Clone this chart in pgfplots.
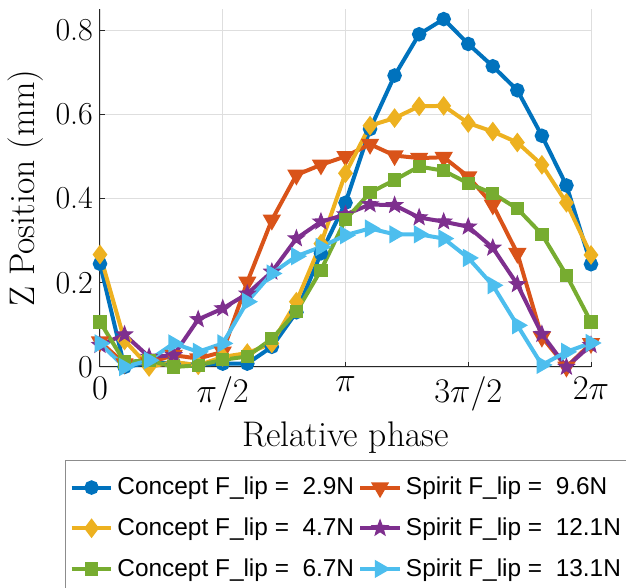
\documentclass[border=0pt]{standalone}
\usepackage{pgfplots}
\pgfplotsset{compat=1.18}
\usepackage{fontspec}
\newfontfamily\legfont{Liberation Sans}
\definecolor{mblue}{rgb}{0,0.447,0.741}
\definecolor{morange}{rgb}{0.85,0.325,0.098}
\definecolor{myellow}{rgb}{0.929,0.694,0.125}
\definecolor{mpurple}{rgb}{0.494,0.184,0.556}
\definecolor{mgreen}{rgb}{0.466,0.674,0.188}
\definecolor{mcyan}{rgb}{0.301,0.745,0.933}
\pgfdeclareplotmark{fstar}{%
  \pgfpathmoveto{\pgfpointpolar{90}{\pgfplotmarksize}}%
  \pgfpathlineto{\pgfpointpolar{126}{0.42\pgfplotmarksize}}%
  \pgfpathlineto{\pgfpointpolar{162}{\pgfplotmarksize}}%
  \pgfpathlineto{\pgfpointpolar{198}{0.42\pgfplotmarksize}}%
  \pgfpathlineto{\pgfpointpolar{234}{\pgfplotmarksize}}%
  \pgfpathlineto{\pgfpointpolar{270}{0.42\pgfplotmarksize}}%
  \pgfpathlineto{\pgfpointpolar{306}{\pgfplotmarksize}}%
  \pgfpathlineto{\pgfpointpolar{342}{0.42\pgfplotmarksize}}%
  \pgfpathlineto{\pgfpointpolar{18}{\pgfplotmarksize}}%
  \pgfpathlineto{\pgfpointpolar{54}{0.42\pgfplotmarksize}}%
  \pgfpathclose
  \pgfusepathqfillstroke}
\begin{document}
\begin{tikzpicture}
\begin{axis}[
  scale only axis,
  width=245.5pt, height=179pt,
  xmin=0, xmax=20, ymin=0, ymax=0.85,
  axis lines*=left,
  axis line style={line width=0.5pt, black!85},
  clip=false,
  xtick={0,5,10,15,20},
  xticklabels={$0$,$\pi/2$,$\pi$,$3\pi/2$,$2\pi$},
  ytick={0,0.2,0.4,0.6,0.8},
  yticklabels={0,0.2,0.4,0.6,0.8},
  tick align=inside,
  major tick length=2.5pt,
  tick style={black!85, line width=0.5pt},
  grid=major,
  major grid style={line width=0.4pt, black!13},
  tick label style={font=\fontsize{16}{19}\selectfont},
  xticklabel style={yshift=-1.5pt},
  label style={font=\fontsize{17.8}{21}\selectfont},
  xlabel style={yshift=2pt},
  ylabel style={yshift=-1pt},
  xlabel={Relative phase},
  ylabel={Z Position (mm)},
  every axis plot/.append style={line width=2pt},
  legend columns=2,
  legend cell align=left,
  legend style={at={(-0.071,-0.259)}, anchor=north west,
    font=\legfont\fontsize{12.2}{14}\selectfont, draw=black!45, line width=0.5pt,
    row sep=6pt, inner xsep=2pt, inner ysep=6.5pt,
    /tikz/every even column/.append style={column sep=0pt}},
  legend image code/.code={\draw[mark repeat=2,mark phase=2] plot coordinates {(0cm,0cm) (0.35cm,0cm) (0.7cm,0cm)};},
]
\addplot[mblue, mark=*, mark size=2.6pt, mark options={solid, fill=mblue}] coordinates {
(0,0.245)(1,0.0)(2,0.01)(3,0.01)(4,0.005)(5,0.008)(6,0.008)(7,0.048)(8,0.13)(9,0.27)(10,0.39)
(11,0.565)(12,0.692)(13,0.79)(14,0.826)(15,0.767)(16,0.714)(17,0.657)(18,0.549)(19,0.431)(20,0.244)};
\addlegendentry{Concept F\_lip =\ \ 2.9N}
\addplot[morange, mark=triangle*, mark size=3.3pt, mark options={solid, fill=morange, rotate=180}] coordinates {
(0,0.06)(1,0.008)(2,0.01)(3,0.028)(4,0.02)(5,0.036)(6,0.202)(7,0.349)(8,0.456)(9,0.48)(10,0.5)
(11,0.529)(12,0.502)(13,0.496)(14,0.498)(15,0.452)(16,0.385)(17,0.27)(18,0.071)(19,0.0)(20,0.056)};
\addlegendentry{Spirit F\_lip =\ \ 9.6N}
\addplot[myellow, mark=diamond*, mark size=3.3pt, mark options={solid, fill=myellow}] coordinates {
(0,0.267)(1,0.063)(2,0.0)(3,0.012)(4,0.004)(5,0.024)(6,0.033)(7,0.056)(8,0.155)(9,0.293)(10,0.46)
(11,0.573)(12,0.591)(13,0.619)(14,0.62)(15,0.579)(16,0.559)(17,0.533)(18,0.48)(19,0.39)(20,0.266)};
\addlegendentry{Concept F\_lip =\ \ 4.7N}
\addplot[mpurple, mark=fstar, mark size=4.2pt, mark options={solid, fill=mpurple, line width=0.5pt}] coordinates {
(0,0.052)(1,0.077)(2,0.024)(3,0.028)(4,0.113)(5,0.139)(6,0.174)(7,0.226)(8,0.305)(9,0.345)(10,0.362)
(11,0.386)(12,0.384)(13,0.355)(14,0.345)(15,0.333)(16,0.283)(17,0.196)(18,0.078)(19,0.0)(20,0.052)};
\addlegendentry{Spirit F\_lip =\ \ 12.1N}
\addplot[mgreen, mark=square*, mark size=2.3pt, mark options={solid, fill=mgreen}] coordinates {
(0,0.107)(1,0.012)(2,0.016)(3,0.0)(4,0.004)(5,0.017)(6,0.025)(7,0.067)(8,0.131)(9,0.23)(10,0.35)
(11,0.414)(12,0.444)(13,0.476)(14,0.466)(15,0.436)(16,0.412)(17,0.376)(18,0.315)(19,0.218)(20,0.107)};
\addlegendentry{Concept F\_lip =\ \ 6.7N}
\addplot[mcyan, mark=triangle*, mark size=3.3pt, mark options={solid, fill=mcyan, rotate=-90}] coordinates {
(0,0.056)(1,0.0)(2,0.016)(3,0.056)(4,0.036)(5,0.056)(6,0.155)(7,0.222)(8,0.263)(9,0.285)(10,0.313)
(11,0.329)(12,0.315)(13,0.315)(14,0.305)(15,0.259)(16,0.194)(17,0.099)(18,0.005)(19,0.036)(20,0.057)};
\addlegendentry{Spirit F\_lip =\ \ 13.1N}
\end{axis}
\pgfresetboundingbox
\path[use as bounding box] (current axis.south west) ++(-50pt,-110.5pt) rectangle ++(313pt,294pt);
\end{tikzpicture}
\end{document}
